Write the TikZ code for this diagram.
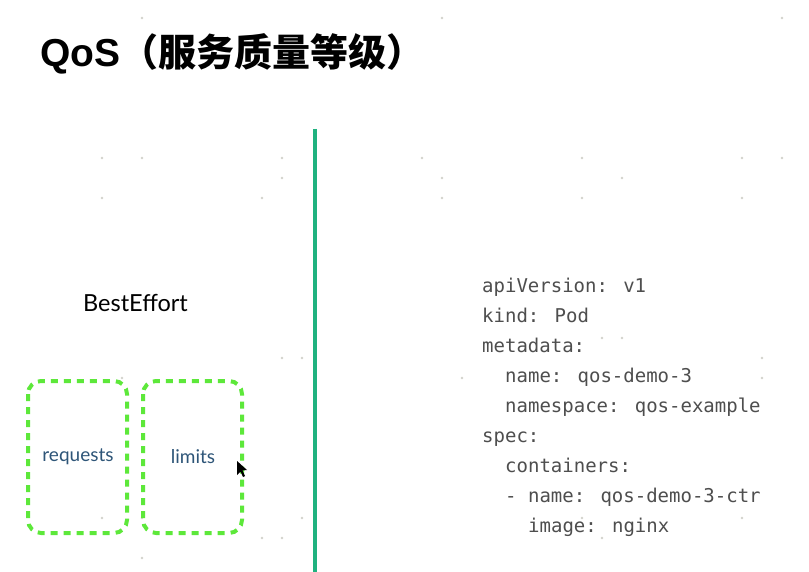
\documentclass[tikz,border=0pt]{standalone}
\usepackage{fontspec}
\setmainfont{Lato}
\newfontfamily\titlelatin{Liberation Sans}
\newfontfamily\cjk{Noto Sans CJK SC}
\newfontfamily\codefont{DejaVu Sans Mono}
\definecolor{divgreen}{HTML}{1FB27F}
\definecolor{dashgreen}{HTML}{5DE83A}
\definecolor{labelblue}{HTML}{2E5578}
\definecolor{codegrey}{HTML}{4E4E4E}
\definecolor{dotgrey}{HTML}{D2D2CC}
\tikzset{
  limitbox/.style={draw=dashgreen, line width=4pt, dash pattern=on 7pt off 6pt, rounded corners=13pt},
  boxlabel/.style={text=labelblue, font=\fontsize{19}{22}\selectfont},
  codeline/.style={anchor=base west, inner sep=0pt, text=codegrey, font=\codefont\fontsize{19}{22}\selectfont},
  griddot/.style={fill=dotgrey, draw=none}
}
\begin{document}
\begin{tikzpicture}[x=1pt,y=-1pt]
\useasboundingbox[fill=white] (0,0) rectangle (809,572);
% faint background dots
\foreach \p in {(142,18),(442,18),(782,18),(102,158),(142,158),(282,158),(282,178),(102,198),(262,198),
  (422,158),(442,178),(442,198),(582,158),(622,178),(582,198),(742,158),(782,158),(742,198),
  (122,378),(102,518),(142,518),(302,518),(262,538),(282,538),(142,558),
  (602,338),(622,338),(762,358),(462,378),(762,378),(582,518),(742,518),(602,538),(282,358),(302,358)}
  \fill[griddot] \p circle (1.4pt);
% title
\node[anchor=base west, inner sep=0pt] (title) at (40,67)
  {\titlelatin\bfseries\fontsize{39}{44}\selectfont QoS\cjk\fontsize{38}{44}\selectfont （服务质量等级）};
% divider
\coordinate (divtop) at (315,129);
\coordinate (divbot) at (315,572);
\draw[divgreen, line width=4.5pt] (divtop) -- (divbot);
% left side
\node[anchor=base, inner sep=0pt, font=\fontsize{23.5}{26}\selectfont] (be) at (135.5,312) {BestEffort};
\draw[limitbox] (28,381) rectangle (127,533);
\draw[limitbox] (143,381) rectangle (242,533);
\node[boxlabel] (req) at (78,457) {requests};
\node[boxlabel] (lim) at (193,457) {limits};
% cursor
\fill[black] (237,461) -- (237,475) -- (240.5,471.5) -- (243,477) -- (245,476) -- (242.5,470.5) -- (247,470) -- cycle;
% code
\node[codeline] (c1) at (482,292) {apiVersion: v1};
\node[codeline] (c2) at (482,322) {kind: Pod};
\node[codeline] (c3) at (482,352) {metadata:};
\node[codeline] (c4) at (505,382) {name: qos-demo-3};
\node[codeline] (c5) at (505,412) {namespace: qos-example};
\node[codeline] (c6) at (482,442) {spec:};
\node[codeline] (c7) at (505,472) {containers:};
\node[codeline] (c8) at (505,502) {- name: qos-demo-3-ctr};
\node[codeline] (c9) at (528,532) {image: nginx};
\end{tikzpicture}
\end{document}
